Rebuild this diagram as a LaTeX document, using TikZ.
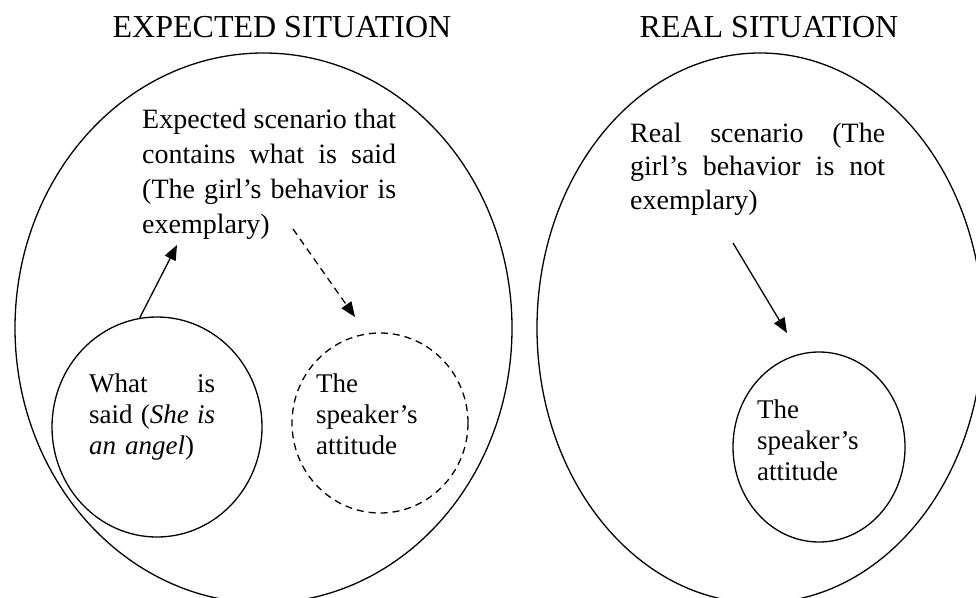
\documentclass[tikz,border=0pt]{standalone}
\usepackage{fontspec}
\setmainfont{Liberation Serif}
\usetikzlibrary{arrows.meta,shapes.geometric}

% one line of text spread over a given width
\newcommand{\justline}[2]{\leavevmode\hbox to #1{#2}}

\begin{document}
\begin{tikzpicture}[x=1pt,y=-1pt,
  outline/.style={draw,ellipse,line width=1.3pt,inner sep=0pt},
  dashoutline/.style={outline,dash pattern=on 7pt off 5pt},
  title/.style={anchor=base,inner sep=0pt,font=\fontsize{32}{38}\selectfont},
  blocktext/.style={anchor=base west,inner sep=0pt,align=left,font=\fontsize{28}{35}\selectfont},
  smalltext/.style={blocktext,font=\fontsize{27}{31}\selectfont},
  link/.style={line width=1.3pt,-{Triangle[length=15pt,width=12pt]}},
  dashlink/.style={link,dash pattern=on 7pt off 5pt}]
  \useasboundingbox (0,0) rectangle (976,597);
  \clip (0,0) rectangle (976,597);

  % headings
  \node[title] (hexp) at (282,37) {EXPECTED SITUATION};
  \node[title] (hreal) at (769,37) {REAL SITUATION};

  % the two situations
  \node[outline,minimum width=497pt,minimum height=550pt] (expected) at (263.5,328) {};
  \node[outline,minimum width=446pt,minimum height=550pt] (real) at (760,328) {};

  % inner circles
  \node[outline,minimum width=210pt,minimum height=220pt] (said) at (157,427) {};
  \node[dashoutline,minimum width=176pt,minimum height=180pt] (attexp) at (380,423) {};
  \node[outline,minimum width=172pt,minimum height=190pt] (attreal) at (819,447) {};

  % scenario texts
  \node[blocktext,text width=254pt] (expscen) at (142,128)
    {\justline{254pt}{Expected\hfill scenario\hfill that}\\
     \justline{254pt}{contains\hfill what\hfill is\hfill said}\\
     \justline{254pt}{(The\hfill girl’s\hfill behavior\hfill is}\\
     exemplary)};
  \node[blocktext,text width=255pt,font=\fontsize{28}{33.5}\selectfont] (realscen) at (630,142)
    {\justline{255pt}{Real\hfill scenario\hfill (The}\\
     \justline{255pt}{girl’s\hfill behavior\hfill is\hfill not}\\
     exemplary)};

  % texts inside the circles
  \node[smalltext,text width=126pt] (saidtext) at (89,392)
    {\justline{126pt}{What\hfill is}\\
     \justline{126pt}{said\hfill (\textit{She}\hfill\textit{is}}\\
     \textit{an angel})};
  \node[smalltext,text width=130pt] (attexptext) at (316,392)
    {The\\ speaker’s\\ attitude};
  \node[smalltext,text width=130pt] (attrealtext) at (757,418)
    {The\\ speaker’s\\ attitude};

  % arrow ends
  \coordinate (tipA) at (177,245);
  \coordinate (startB) at (293,229);
  \coordinate (tipB) at (355,317);
  \coordinate (startC) at (733,243);
  \coordinate (tipC) at (787,333);

  % connectors
  \draw[link] (said.99.4) -- (tipA);
  \draw[dashlink] (startB) -- (tipB);
  \draw[link] (startC) -- (tipC);
\end{tikzpicture}
\end{document}
